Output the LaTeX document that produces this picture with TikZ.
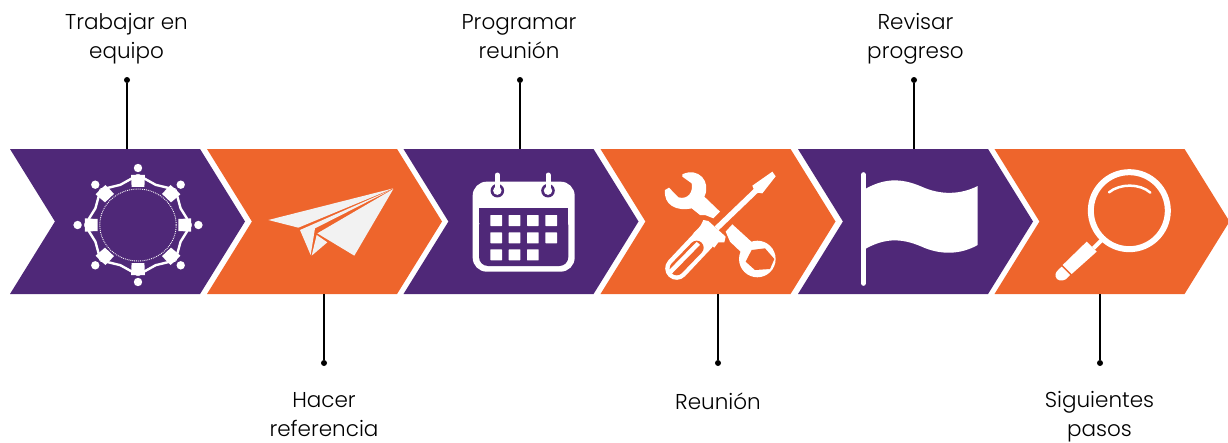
\documentclass[tikz,border=0pt]{standalone}
\usepackage{fontspec}
\setmainfont{Poppins}[UprightFont=* Light]
\usetikzlibrary{shapes.symbols}
\definecolor{morado}{HTML}{4F2878}
\definecolor{naranja}{HTML}{EE652C}
\definecolor{papel}{HTML}{F2F2F2}
\tikzset{
    paso/.style={signal,signal from=west,signal to=east,signal pointer angle=116.4,minimum width=235pt,minimum height=145pt,inner sep=0pt,outer sep=0pt},
    pasoM/.style={paso,fill=morado},
    pasoN/.style={paso,fill=naranja},
    punto/.style={circle,fill=black,minimum size=6pt,inner sep=0pt},
    enlace/.style={draw=black,line width=1.4pt},
    rotulo/.style={align=center,text=black,font=\fontsize{21.5}{29}\selectfont,inner sep=0pt}
}
\begin{document}
\begin{tikzpicture}[x=1pt,y=-1pt]
        \useasboundingbox (0,0) rectangle (1228,442);
        % flechas
        \node[pasoM] (paso1) at (127.5,221.5) {};
        \node[pasoN] (paso2) at (324.5,221.5) {};
        \node[pasoM] (paso3) at (521,221.5) {};
        \node[pasoN] (paso4) at (718,221.5) {};
        \node[pasoM] (paso5) at (915.5,221.5) {};
        \node[pasoN] (paso6) at (1112,221.5) {};
        % puntos y enlaces
        \node[punto] (punto1) at (127,80) {};
        \node[punto] (punto2) at (324,363) {};
        \node[punto] (punto3) at (520,80) {};
        \node[punto] (punto4) at (718,363) {};
        \node[punto] (punto5) at (914,80) {};
        \node[punto] (punto6) at (1100,363) {};
        \draw[enlace] (punto1) -- (punto1 |- paso1.north);
        \draw[enlace] (punto2) -- (punto2 |- paso2.south);
        \draw[enlace] (punto3) -- (punto3 |- paso3.north);
        \draw[enlace] (punto4) -- (punto4 |- paso4.south);
        \draw[enlace] (punto5) -- (punto5 |- paso5.north);
        \draw[enlace] (punto6) -- (punto6 |- paso6.south);
        % textos
        \node[rotulo] (texto1) at (126.5,39) {Trabajar en\\equipo};
        \node[rotulo] (texto2) at (324,415) {Hacer\\referencia};
        \node[rotulo] (texto3) at (519,37) {Programar\\reunión};
        \node[rotulo] (texto4) at (718,401) {Reunión};
        \node[rotulo] (texto5) at (915.5,39) {Revisar\\progreso};
        \node[rotulo] (texto6) at (1099.5,417) {Siguientes\\pasos};
        % equipo
        \begin{scope}[shift={(138,225)},x=1.06pt]
            \draw[white,densely dotted,line width=.9pt] (0,0) ellipse [x radius=38.2pt,y radius=36pt];
            \foreach \a in {0,45,...,315} {
                \fill[white] (\a:57) circle (4.2pt);
                \fill[white] (\a-9:38.5) -- (\a-7.5:50.5) -- (\a+7.5:50.5) -- (\a+9:38.5) -- cycle;
                \draw[white,line width=2.4pt,line join=round] (\a:50) -- (\a+22.5:43.5) -- (\a+45:50);
            }
        \end{scope}
        % avion
        \begin{scope}[shift={(0,140)},x=1/3*1pt,y=-1/3*1pt]
            \fill[papel] (805,240) -- (1180,145) -- (895,263) -- cycle;
            \fill[papel] (900,270) -- (1172,150) -- (945,265) -- (932,345) -- cycle;
            \fill[papel] (950,285) -- (982,307) -- (935,347) -- cycle;
            \fill[papel] (952,280) -- (1180,147) -- (1063,347) -- cycle;
        \end{scope}
        % calendario
        \begin{scope}[shift={(400,140)},x=1/3*1pt,y=-1/3*1pt]
            \fill[white,rounded corners=14pt] (218,125) rectangle (524,395);
            \fill[morado,rounded corners=9pt] (237,230) rectangle (505,378);
            \fill[morado] (237,205) rectangle (505,250);
            \foreach \c in {292,444} {
                \fill[morado] (\c,152) circle (6.8pt);
                \fill[white] (\c,152) circle (4.2pt);
                \draw[white,line width=5pt,line cap=round] (\c,105) -- (\c,155);
            }
            \foreach \c/\f in {271/225,326/225,381/225,436/225,271/277,326/277,381/277,436/277,271/328,326/328,381/328} {
                \fill[white,rounded corners=.5pt] (\c,\f) rectangle ++(35,33);
            }
        \end{scope}
        % herramientas
        \begin{scope}[shift={(655,165)},x=1/3*1pt,y=-1/3*1pt]
            \fill[white] (82,28) .. controls (130,5) and (170,50) .. (148,95) -- (195,140) -- (175,160) -- (150,150) -- (135,150) -- (110,130) .. controls (65,140) and (25,120) .. (30,75) -- (42,68) -- (70,97) .. controls (100,105) and (115,80) .. (110,55) -- (82,35) -- cycle;
            \fill[white] (232,178) -- (300,240) -- (262,265) -- (225,230) -- (212,200) -- cycle;
            \fill[white] (307,282) circle (18.3pt);
            \fill[naranja] (290,255) -- (330,250) -- (358,282) -- (345,312) -- (300,315) -- (272,290) -- cycle;
            \fill[white] (352,20) -- (362,34) -- (322,85) -- (300,82) -- (292,62) -- cycle;
            \draw[white,line width=5.5pt] (305,75) -- (185,190);
            \fill[white] (138,180) -- (145,165) -- (160,168) -- (190,195) -- (212,215) -- (208,232) -- (190,232) -- (178,248) -- (115,205) -- (130,190) -- cycle;
            \draw[white,line width=23pt,line cap=round] (65,310) -- (145,225);
            \draw[naranja,line width=14pt,line cap=round] (65,310) -- (125,248);
            \draw[white,line width=4.5pt] (45,322) -- (130,235);
        \end{scope}
        % bandera
        \begin{scope}[shift={(800,140)},x=1/3*1pt,y=-1/3*1pt]
            \draw[white,line width=5pt,line cap=round] (190,104) -- (190,430);
            \fill[white] (190,150) .. controls (250,115) and (300,112) .. (365,140) .. controls (420,165) and (480,165) .. (533,138) -- (533,315) .. controls (480,345) and (420,345) .. (365,320) .. controls (300,292) and (250,295) .. (190,330) -- cycle;
        \end{scope}
        % lupa
        \begin{scope}[shift={(800,140)},x=1/3*1pt,y=-1/3*1pt]
            \draw[white,line width=6pt] (988,212) circle (38.5pt);
            \draw[white,line width=2.5pt,line cap=round] (927,157) .. controls (960,130) and (1020,130) .. (1051,158);
            \draw[white,line width=4pt] (905,300) -- (880,325);
            \fill[white] (860,305) -- (890,335) -- (815,402) -- (788,375) -- cycle;
            \fill[white] (785,380) -- (810,405) -- (797,418) .. controls (785,425) and (770,422) .. (767,410) .. controls (764,400) and (770,393) .. (785,380) -- cycle;
        \end{scope}
    \end{tikzpicture}
\end{document}
